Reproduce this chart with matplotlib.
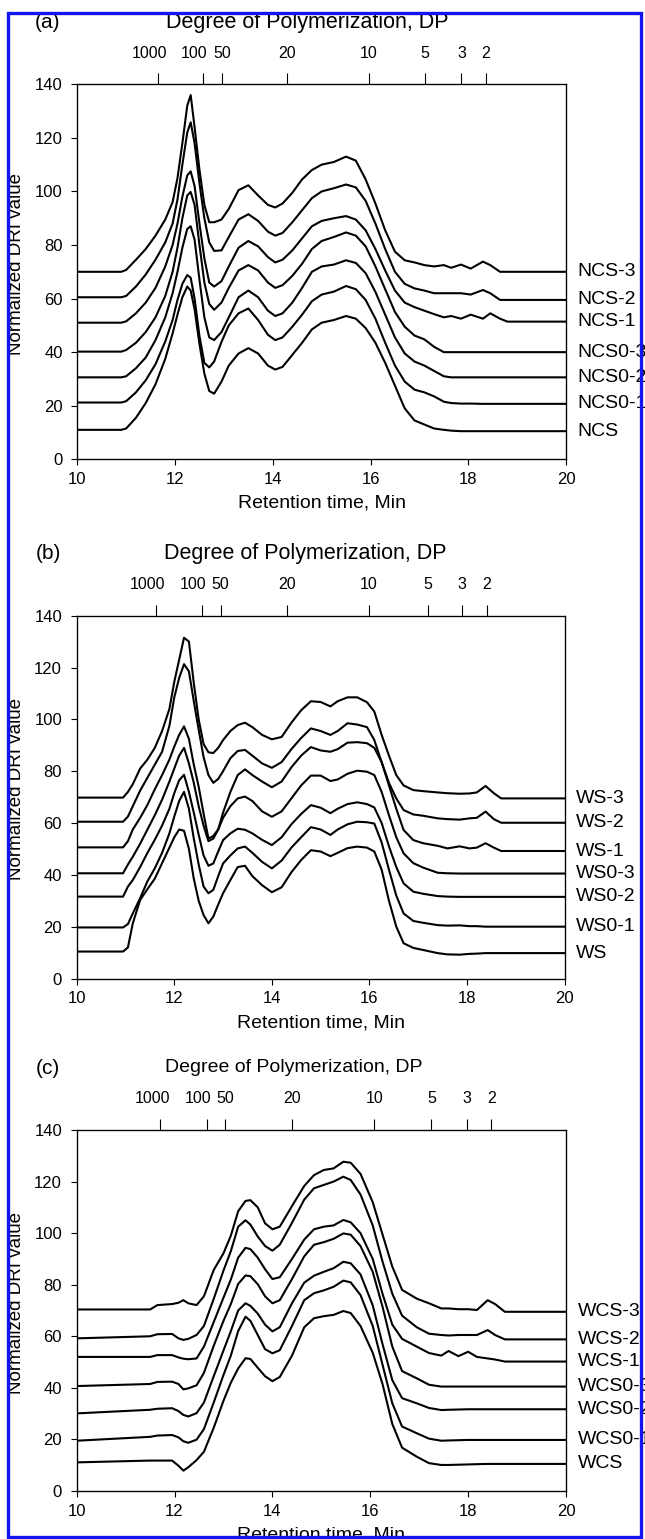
"""GPC/DRI traces of the starch samples, three stacked panels (a) NCS, (b) WS, (c) WCS."""
import numpy as np
import matplotlib
matplotlib.use("Agg")
import matplotlib.pyplot as plt
from matplotlib.patches import Rectangle
from matplotlib.transforms import ScaledTranslation, blended_transform_factory

plt.rcParams["font.family"] = ["Liberation Sans", "DejaVu Sans"]

W, H = 645, 1539                     # output size in px (dpi 100)

# ---- data -------------------------------------------------------------
DP_LABELS = ["1000", "100", "50", "20", "10", "5", "3", "2"]
Y_TICKS = [0, 20, 40, 60, 80, 100, 120, 140]
X_TICKS = [10, 12, 14, 16, 18, 20]

# (a) NCS series
t_a = [10.0, 10.9, 11.0, 11.2, 11.4, 11.6, 11.8, 11.95, 12.05, 12.15, 12.25, 12.32, 12.4, 12.5,
       12.6, 12.7, 12.8, 12.95, 13.1, 13.3, 13.5, 13.7, 13.9, 14.05, 14.2, 14.4, 14.6, 14.8,
       15.0, 15.25, 15.5, 15.7, 15.9, 16.1, 16.3, 16.5, 16.7, 16.9, 17.1, 17.3, 17.5, 17.65,
       17.85, 18.05, 18.3, 18.45, 18.65, 18.8, 20.0]
dp_a = [11.645, 12.57, 12.97, 14.29, 15.96, 17.12, 17.86, 18.36]
names_a = ["NCS-3", "NCS-2", "NCS-1", "NCS0-3", "NCS0-2", "NCS0-1", "NCS"]
ncs_3 = [70, 70, 70.7, 74.5, 78.5, 83.5, 89.5, 96, 105, 118, 132, 136, 124, 108, 95, 88.5, 88.5,
         89.5, 93.5, 100.5, 102.3, 98.5, 95, 94, 95.5, 99.5, 104.5, 108, 110, 111, 113, 111.5,
         104.5, 95.5, 85.5, 77.5, 74.3, 73.5, 72.5, 72, 72.5, 71.5, 72.7, 71.2, 73.8, 72.5, 70, 70, 70]
ncs_2 = [60.5, 60.5, 61, 64.5, 69, 74.5, 81, 88, 97, 110, 122, 125.8, 118, 103, 90, 81, 77.8, 78,
         83, 89.5, 91.5, 89, 85, 83.5, 84.5, 88.5, 93, 97.5, 100, 101.2, 102.6, 101.5, 96.5, 88,
         78.5, 70, 65.5, 63.8, 63, 62, 62, 62, 62, 61.5, 63.2, 62, 59.5, 59.5, 59.5]
ncs_1 = [51, 51, 51.5, 54.5, 58.5, 64, 72, 80, 88, 98, 106, 107.5, 102, 88, 75, 66, 64.5, 66.5,
         72, 79, 81.5, 79.5, 75.5, 73.5, 74.5, 78, 82.5, 87, 89, 90, 90.8, 89.5, 85.5, 78.5, 70.5,
         63, 58.5, 56.8, 55.5, 54.2, 53, 53.5, 52.5, 54, 52.5, 54.5, 52.5, 51.4, 51.4]
ncs0_3 = [40.2, 40.2, 40.8, 43.5, 47.5, 53, 61, 70, 79, 90, 98.5, 99.8, 95, 80, 66, 58, 55.8,
          58.5, 64, 70.5, 72.5, 70.5, 66, 64, 65, 68.5, 73, 78.5, 81.5, 83, 84.7, 83.5, 79.5, 72,
          63.5, 55, 49.5, 46.2, 44.8, 42, 40, 40, 40, 40, 40, 40, 40, 40, 40]
ncs0_2 = [30.6, 30.6, 31, 34, 38, 44.5, 53, 62, 70, 79, 86, 87, 82, 67, 53, 45.5, 44.5, 47.5, 53,
          60.5, 63, 60.5, 55.5, 53.5, 54.5, 58.5, 64, 70, 72, 72.7, 74.3, 73.3, 69.5, 62.5, 54,
          45.5, 39.5, 36.5, 35, 33, 31, 30.6, 30.6, 30.6, 30.6, 30.6, 30.6, 30.6, 30.6]
ncs0_1 = [21.2, 21.2, 21.7, 25, 29.5, 35.5, 44, 52, 59.5, 65.5, 68.8, 67.8, 60, 46, 36, 34.3,
          36.5, 43.8, 50, 54.5, 56.3, 52, 46.5, 44.5, 45.5, 49.5, 54, 59, 61.5, 62.6, 64.7, 63.5,
          59.5, 52.5, 43.5, 35, 29, 26, 25, 23.5, 21.5, 21, 20.8, 20.8, 20.7, 20.7, 20.7, 20.7, 20.7]
ncs = [11, 11, 11.5, 15.5, 21, 28, 37.5, 47, 54, 60.5, 64.5, 63, 56, 43, 32, 25.5, 24.5, 29, 35,
       39.5, 41.5, 39.5, 35, 33.5, 34.5, 39, 43.5, 48.5, 51, 52, 53.5, 52.5, 49, 43.5, 36, 27.5,
       19, 14.5, 13, 11.5, 11, 10.7, 10.5, 10.5, 10.5, 10.5, 10.5, 10.5, 10.5]

# (b) WS series
t_b = [10.0, 10.95, 11.05, 11.15, 11.3, 11.45, 11.6, 11.75, 11.9, 12.0, 12.1, 12.2, 12.3, 12.4,
       12.5, 12.6, 12.7, 12.8, 12.9, 13.0, 13.15, 13.3, 13.45, 13.6, 13.8, 14.0, 14.2, 14.4,
       14.6, 14.8, 15.0, 15.2, 15.35, 15.55, 15.75, 15.95, 16.1, 16.25, 16.4, 16.55, 16.7, 16.9,
       17.1, 17.4, 17.6, 17.85, 18.05, 18.2, 18.38, 18.55, 18.7, 20.0]
dp_b = [11.625, 12.56, 12.95, 14.32, 15.99, 17.19, 17.89, 18.4]
names_b = ["WS-3", "WS-2", "WS-1", "WS0-3", "WS0-2", "WS0-1", "WS"]
ws_3 = [69.8, 69.8, 72, 75, 81, 84.5, 89, 95.5, 104, 114.5, 123, 131.5, 130, 114, 100, 90.5,
        87.3, 87, 89, 92, 95.5, 97.8, 98.7, 97, 94, 92.3, 93.2, 98.7, 103.5, 107, 106.7, 105,
        107, 108.5, 108.5, 106.6, 103, 94, 86, 78.5, 74.5, 72.7, 72.3, 71.8, 71.5, 71.3, 71.4,
        71.8, 74.3, 71.5, 69.5, 69.5]
ws_2 = [60.5, 60.5, 62.5, 66.5, 72.5, 77.5, 82.5, 87.5, 97.5, 108.5, 116, 121.3, 118.5, 107, 96,
        85.5, 78.5, 75.5, 77, 80, 85, 87.8, 88.2, 86, 83, 81.3, 83.5, 88.5, 92.8, 96.5, 95.5, 94,
        95.5, 98.5, 98, 97, 92, 83.5, 75.5, 69.5, 65, 63.3, 62.8, 61.8, 61.5, 61.3, 61.8, 62,
        64.4, 61.5, 60.1, 60.1]
ws_1 = [50.6, 50.6, 53, 57.5, 62, 67, 73, 78.5, 84.5, 89.5, 94, 97.3, 92.5, 82.5, 74, 63.7, 54,
        55, 57.5, 64, 72, 78.5, 80.7, 78.5, 76, 73.8, 76, 81.5, 86, 89.3, 88, 87.5, 88.5, 91,
        91.2, 90.8, 89, 83.5, 74.5, 65.5, 57.3, 53.4, 52.2, 51.2, 50.2, 51, 50.2, 50.5, 52.2,
        50.5, 49.2, 49.2]
ws0_3 = [40.6, 40.6, 44, 47, 52, 57.5, 63, 69, 76, 81, 86, 89, 83, 75.5, 66.5, 59, 53, 54, 57.5,
         62, 66.5, 69.5, 70.2, 68.5, 64.5, 62.4, 64.5, 69.5, 74.5, 78.3, 78.3, 76.2, 76.8, 79,
         80.2, 79.8, 78.5, 72, 63, 54.5, 48.3, 44.5, 42.8, 40.8, 40.6, 40.5, 40.5, 40.5, 40.5,
         40.5, 40.5, 40.5]
ws0_2 = [31.6, 31.6, 35.5, 38, 43, 48.5, 53.5, 59, 65.5, 71.5, 76.5, 78.6, 72, 64, 55.5, 47.5,
         43.5, 44.4, 49, 53.4, 56, 57.8, 57.4, 56, 53.5, 51.5, 54.5, 59.5, 63.5, 66.9, 65.9,
         63.8, 65.5, 67.3, 68, 67.3, 66, 60, 51, 43, 36.7, 33.5, 32.7, 31.8, 31.6, 31.5, 31.5,
         31.5, 31.5, 31.5, 31.5, 31.5]
ws0_1 = [19.7, 19.7, 21, 25.1, 31, 37.5, 42.5, 48.5, 56, 62.5, 68.5, 72, 65.5, 54, 44, 35.5,
         32.9, 34.2, 39.5, 44.4, 47.5, 50.2, 50.9, 48.5, 45, 42.5, 45.5, 50.5, 54.5, 58.4, 57.5,
         55.4, 57.5, 59.5, 60.5, 60.3, 59.8, 52.5, 42, 32, 25.1, 22.2, 21.5, 20.6, 20.4, 20.5,
         20.2, 20.2, 20, 20, 20, 20]
ws = [10.4, 10.4, 12, 21.3, 30.3, 34.5, 38.5, 44.5, 50.5, 54.5, 57.5, 57, 50, 38.5, 30, 24.5,
      21.3, 23.9, 28.5, 32.9, 38, 43, 43.5, 39.5, 36, 33.3, 35.2, 41, 45.7, 49.5, 49, 47.2, 48.5,
      50.3, 50.9, 50.5, 49, 42, 30, 20, 13.6, 11.8, 11, 9.8, 9.3, 9.2, 9.5, 9.6, 9.8, 9.8, 9.8, 9.8]

# (c) WCS series
t_c = [10.0, 11.5, 11.65, 11.95, 12.08, 12.18, 12.28, 12.45, 12.6, 12.8, 13.0, 13.15, 13.3,
       13.45, 13.55, 13.7, 13.85, 14.0, 14.15, 14.4, 14.65, 14.85, 15.05, 15.25, 15.45, 15.6,
       15.8, 16.05, 16.25, 16.45, 16.65, 16.95, 17.2, 17.45, 17.6, 17.8, 18.0, 18.18, 18.4,
       18.55, 18.75, 20.0]
dp_c = [11.71, 12.66, 13.04, 14.41, 16.08, 17.25, 17.98, 18.47]
names_c = ["WCS-3", "WCS-2", "WCS-1", "WCS0-3", "WCS0-2", "WCS0-1", "WCS"]
wcs_3 = [70.4, 70.4, 72.1, 72.5, 73, 74, 72.8, 72.1, 75.5, 85.7, 92.2, 99, 108.5, 112.5, 112.8,
         110, 103.8, 101.5, 102.5, 110.5, 118.3, 122.5, 124.5, 125.1, 127.7, 127.3, 123, 112,
         99.5, 87, 78, 74.6, 72.8, 70.8, 70.8, 70.5, 70.5, 70.2, 74, 72.5, 69.5, 69.5]
wcs_2 = [59.2, 60, 60.8, 60.9, 59.2, 58.6, 59, 60.5, 64, 74.5, 85.5, 93, 102.5, 105, 103.3,
         98.7, 95, 93.2, 95.5, 104, 113, 117.4, 118.7, 120, 121.9, 120.6, 115, 103, 89, 76.5,
         68, 63.5, 61, 60.5, 60.3, 60.5, 60.5, 60.5, 62.4, 60.5, 58.8, 58.8]
wcs_1 = [52, 52, 52.7, 52.7, 51.8, 51.3, 51.1, 51.4, 56, 65.5, 75, 82, 90.5, 94.3, 93.8, 90.5,
         86, 82.2, 82.9, 90, 97.5, 101.5, 102.5, 103, 105.1, 104.2, 100, 90, 76.5, 64.5, 59, 56,
         53.5, 52.5, 54.3, 52.3, 54, 52, 51.4, 51, 50.2, 50.2]
wcs0_3 = [40.7, 41.5, 42.3, 42.4, 41.5, 39.4, 39.8, 41, 45.8, 56.3, 66, 72.5, 80.3, 83.6, 83.3,
          80.2, 75.5, 72.8, 74, 82.2, 91, 95.5, 96.5, 97.8, 99.9, 99.4, 95, 85, 71.5, 56, 46.5,
          43.7, 41.2, 40.5, 40.5, 40.5, 40.5, 40.5, 40.5, 40.5, 40.5, 40.5]
wcs0_2 = [30.1, 31.5, 31.9, 32.1, 31, 29.5, 28.9, 30.2, 34.3, 44.5, 54.5, 62, 70, 72.8, 71.8,
          68.8, 64.5, 61.9, 63.5, 72.8, 80.8, 83.5, 85, 86.4, 88.9, 88.3, 84, 72, 57, 43, 36, 34,
          32.2, 31.4, 31.5, 31.6, 31.7, 31.7, 31.7, 31.7, 31.7, 31.7]
wcs0_1 = [19.5, 21, 21.5, 21.7, 20.8, 19.3, 18.7, 19.9, 24, 34.3, 45, 52.5, 62, 67.6, 66, 60.5,
          55, 53.4, 54.6, 64, 74, 76.7, 77.8, 79.2, 81.6, 80.9, 76, 64, 49, 34, 25, 22.4, 20.3,
          19.5, 19.6, 19.7, 19.8, 19.8, 19.8, 19.8, 19.8, 19.8]
wcs = [11.1, 11.8, 11.8, 11.8, 9.8, 7.9, 9.2, 12, 15.2, 24.5, 35, 42, 47.5, 51.5, 51.2, 47.8,
       44.5, 42.6, 44.2, 52.5, 63.5, 67, 67.8, 68.3, 69.8, 69, 64, 53.6, 41.5, 26, 16.8, 13.3,
       10.8, 10.1, 10.1, 10.2, 10.3, 10.4, 10.5, 10.5, 10.5, 10.5]

# ---- layout (pixel boxes: left, top, right, bottom) ---------------------
PANELS = [
    ("(a)", (77.3, 84.3, 566, 459.3), t_a, [ncs_3, ncs_2, ncs_1, ncs0_3, ncs0_2, ncs0_1, ncs],
     names_a, dp_a, 15.5, 307),
    ("(b)", (76.7, 615.7, 564.6, 978.5), t_b, [ws_3, ws_2, ws_1, ws0_3, ws0_2, ws0_1, ws],
     names_b, dp_b, 15.5, 305),
    ("(c)", (76.7, 1130, 566, 1491), t_c, [wcs_3, wcs_2, wcs_1, wcs0_3, wcs0_2, wcs0_1, wcs],
     names_c, dp_c, 14, 294),
]


def fx(px):
    return px / W


def fy(py):
    return 1 - py / H


fig = plt.figure(figsize=(W / 100, H / 100), dpi=100)

for tag, (l, t, r, b), tt, series, names, dp, title_fs, title_x in PANELS:
    ax = fig.add_axes([fx(l), fy(b), fx(r) - fx(l), fy(t) - fy(b)])
    for y in series:
        ax.plot(tt, y, color="black", lw=1.5, solid_joinstyle="round")
    ax.set_xlim(10, 20)
    ax.set_ylim(0, 140)
    ax.set_xticks(X_TICKS)
    ax.set_yticks(Y_TICKS)
    ax.tick_params(direction="out", length=4.5, width=0.8, labelsize=12, pad=4.5)
    ax.tick_params(axis="y", pad=6)
    for s in ax.spines.values():
        s.set_linewidth(0.9)

    # sample names to the right of each trace end
    tr = blended_transform_factory(ax.transAxes, ax.transData)
    for y, nm in zip(series, names):
        ax.annotate(nm, xy=(1, y[-1]), xycoords=tr, xytext=(8.5, 0), textcoords="offset points",
                    va="center", ha="left", fontsize=14, annotation_clip=False)

    # degree of polymerization axis on top
    top = ax.twiny()
    top.set_xlim(10, 20)
    top.set_xticks(dp)
    top.set_xticklabels(DP_LABELS)
    top.tick_params(direction="out", length=8, width=0.8, labelsize=11.5, pad=9)
    for lab, dx in zip(top.get_xticklabels()[:2], (-8, -9)):
        lab.set_transform(lab.get_transform() + ScaledTranslation(dx / 100, 0, fig.dpi_scale_trans))

    mid = (t + b) / 2
    fig.text(fx(17), fy(mid - 8), "Normalized DRI value", rotation=90, ha="center", va="center",
             fontsize=13.5)
    fig.text(fx(48), fy(t - 62), tag, ha="center", va="center", fontsize=15)
    fig.text(fx(title_x), fy(t - 62), "Degree of Polymerization, DP", ha="center", va="center",
             fontsize=title_fs)
    fig.text(fx((l + r) / 2), fy(b + 44), "Retention time, Min", ha="center", va="center",
             fontsize=14)

# blue frame around the whole figure
fig.add_artist(Rectangle((fx(8), fy(1537)), fx(641) - fx(8), fy(13) - fy(1537),
                         transform=fig.transFigure, fill=False, edgecolor="#1414f0", lw=2.4,
                         zorder=10))

fig.savefig("out.png", dpi=100)
